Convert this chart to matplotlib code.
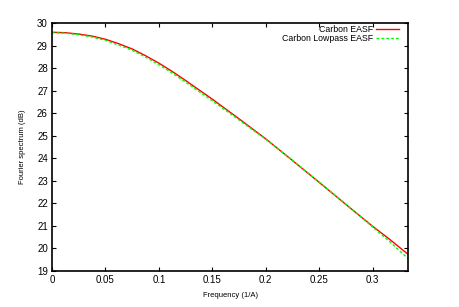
import matplotlib
matplotlib.use("Agg")
import matplotlib.pyplot as plt

freq = [0.0, 0.0125, 0.025, 0.0375, 0.05, 0.0625, 0.075, 0.0875, 0.1, 0.1125,
        0.125, 0.15, 0.175, 0.2, 0.225, 0.25, 0.275, 0.3, 0.316, 0.3333]
easf = [29.59, 29.57, 29.51, 29.42, 29.28, 29.08, 28.85, 28.55, 28.22, 27.85,
        27.45, 26.62, 25.75, 24.86, 23.90, 22.93, 21.95, 20.98, 20.40, 19.73]
lowpass = [29.57, 29.55, 29.48, 29.38, 29.23, 29.02, 28.79, 28.49, 28.15, 27.78,
           27.38, 26.55, 25.70, 24.84, 23.91, 22.94, 21.96, 20.95, 20.30, 19.54]

xticks = [0, 0.05, 0.1, 0.15, 0.2, 0.25, 0.3]
xtick_labels = ["0", "0.05", "0.1", "0.15", "0.2", "0.25", "0.3"]
yticks = list(range(19, 31))

plt.rcParams["font.family"] = ["Liberation Sans", "DejaVu Sans"]

fig = plt.figure(figsize=(4.59, 3.07), dpi=100)
ax = fig.add_axes([0.1133, 0.1173, 0.7762, 0.8077])

ax.plot(freq, easf, color="#ff0000", lw=1.0, label="Carbon EASF")
ax.plot(freq, lowpass, color="#00ff00", lw=1.0, ls=(0, (2, 1.5)),
        label="Carbon Lowpass EASF")

ax.set_xlim(0, 0.3333)
ax.set_ylim(19, 30)
ax.set_xticks(xticks)
ax.set_xticklabels(xtick_labels)
ax.set_yticks(yticks)

ax.tick_params(direction="in", length=3, width=0.8, labelsize=7,
               top=True, right=True, pad=3)
for s in ax.spines.values():
    s.set_linewidth(1.2)

ax.set_xlabel("Frequency (1/A)", fontsize=5.5, labelpad=5)
ax.set_ylabel("Fourier spectrum (dB)", fontsize=5.5, labelpad=8)

ax.legend(loc="upper right", frameon=False, fontsize=6.3, markerfirst=False,
          handlelength=2.6, handletextpad=0.3, labelspacing=0.0,
          borderaxespad=0.3, bbox_to_anchor=(0.99, 1.015))

fig.savefig("out.png", dpi=100)
